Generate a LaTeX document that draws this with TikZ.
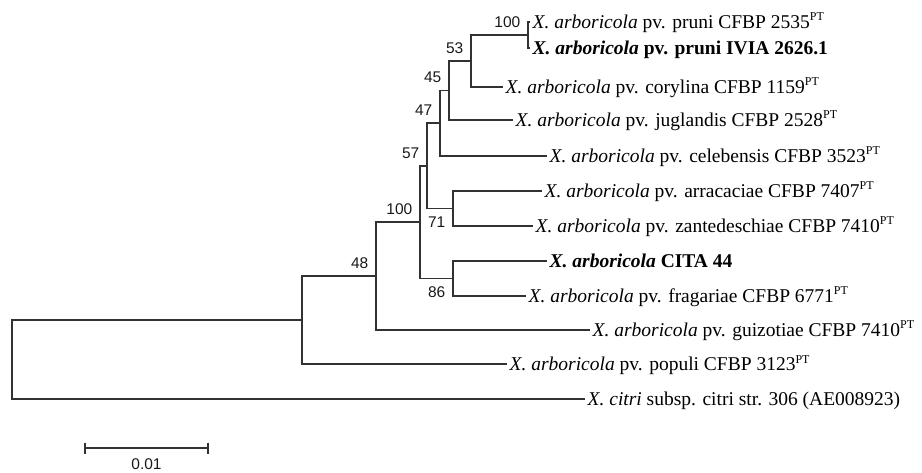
\documentclass[tikz,border=0pt]{standalone}
\usepackage{fontspec}
\setmainfont{Liberation Serif}
\setsansfont{Liberation Sans}
\definecolor{treegray}{RGB}{50,50,50}
\newcommand{\ptsup}{\raisebox{7.5pt}{\fontsize{12}{12}\selectfont PT}}
\newcommand{\xarb}{\textit{X. arboricola}}
\begin{document}
\begin{tikzpicture}[x=1pt,y=-1pt,
  branch/.style={line width=1.6pt, draw=treegray},
  leaf/.style={anchor=base west, inner sep=0pt, xshift=2.5pt, yshift=-6.5pt, font=\fontsize{19.5}{21}\selectfont, text=black},
  bsbase/.style={anchor=east, inner sep=0pt, xshift=-7.5pt, font=\sffamily\fontsize{15.5}{15.5}\selectfont, text=black!90},
  bsa/.style={bsbase, yshift=13pt},
  bsb/.style={bsbase, yshift=-14pt}]
\useasboundingbox (0,0) rectangle (922,473);
% internal nodes
\coordinate (root) at (12,359.5);
\coordinate (n48) at (302,320);
\coordinate (nG) at (376,276);
\coordinate (n100) at (420,222);
\coordinate (n57) at (427,166);
\coordinate (n47) at (440,123);
\coordinate (n45) at (449,90.5);
\coordinate (n53) at (471,61);
\coordinate (nP) at (528,35);
\coordinate (n71) at (453,208.5);
\coordinate (n86) at (453,278.5);
% leaf ends
\coordinate (l1) at (530,22);
\coordinate (l2) at (530,48);
\coordinate (l3) at (503,87);
\coordinate (l4) at (513,120);
\coordinate (l5) at (547,156);
\coordinate (l6) at (542,191);
\coordinate (l7) at (533,226);
\coordinate (l8) at (547,261);
\coordinate (l9) at (526,296);
\coordinate (l10) at (590,330);
\coordinate (l11) at (507,364);
\coordinate (l12) at (585,399);
% branches
\draw[branch] (root) |- (n48);
\draw[branch] (root) |- (l12);
\draw[branch] (n48) |- (nG);
\draw[branch] (n48) |- (l11);
\draw[branch] (nG) |- (n100);
\draw[branch] (nG) |- (l10);
\draw[branch] (n100) |- (n57);
\draw[branch] (n100) |- (n86);
\draw[branch] (n57) |- (n47);
\draw[branch] (n57) |- (n71);
\draw[branch] (n47) |- (n45);
\draw[branch] (n47) |- (l5);
\draw[branch] (n45) |- (n53);
\draw[branch] (n45) |- (l4);
\draw[branch] (n53) |- (nP);
\draw[branch] (n53) |- (l3);
\draw[branch] (nP) |- (l1);
\draw[branch] (nP) |- (l2);
\draw[branch] (n71) |- (l6);
\draw[branch] (n71) |- (l7);
\draw[branch] (n86) |- (l8);
\draw[branch] (n86) |- (l9);
% leaf labels
\node[leaf] (t1) at (l1) {\xarb{} pv. pruni CFBP 2535\ptsup};
\node[leaf] (t2) at (l2) {\textbf{\xarb{} pv. pruni IVIA 2626.1}};
\node[leaf] (t3) at (l3) {\xarb{} pv. corylina CFBP 1159\ptsup};
\node[leaf] (t4) at (l4) {\xarb{} pv. juglandis CFBP 2528\ptsup};
\node[leaf] (t5) at (l5) {\xarb{} pv. celebensis CFBP 3523\ptsup};
\node[leaf] (t6) at (l6) {\xarb{} pv. arracaciae CFBP 7407\ptsup};
\node[leaf] (t7) at (l7) {\xarb{} pv. zantedeschiae CFBP 7410\ptsup};
\node[leaf] (t8) at (l8) {\textbf{\xarb{} CITA 44}};
\node[leaf] (t9) at (l9) {\xarb{} pv. fragariae CFBP 6771\ptsup};
\node[leaf] (t10) at (l10) {\xarb{} pv. guizotiae CFBP 7410\ptsup};
\node[leaf] (t11) at (l11) {\xarb{} pv. populi CFBP 3123\ptsup};
\node[leaf] (t12) at (l12) {\textit{X. citri} subsp. citri str. 306 (AE008923)};
% bootstrap values
\node[bsa] (bP) at (nP) {100};
\node[bsa] (b53) at (n53) {53};
\node[bsa] (b45) at (n45) {45};
\node[bsa] (b47) at (n47) {47};
\node[bsa] (b57) at (n57) {57};
\node[bsa] (b100) at (n100) {100};
\node[bsa] (b48) at (nG) {48};
\node[bsb] (b71) at (n71) {71};
\node[bsb] (b86) at (n86) {86};
% scale bar
\coordinate (sbl) at (85,448);
\coordinate (sbr) at (208,448);
\draw[branch] (sbl) -- (sbr);
\draw[branch] ([yshift=5.5pt]sbl) -- ([yshift=-5.5pt]sbl);
\draw[branch] ([yshift=5.5pt]sbr) -- ([yshift=-5.5pt]sbr);
\node[font=\sffamily\fontsize{15.5}{15.5}\selectfont, text=black!90, inner sep=0pt] (sbt) at (146.5,464) {0.01};
\end{tikzpicture}
\end{document}
